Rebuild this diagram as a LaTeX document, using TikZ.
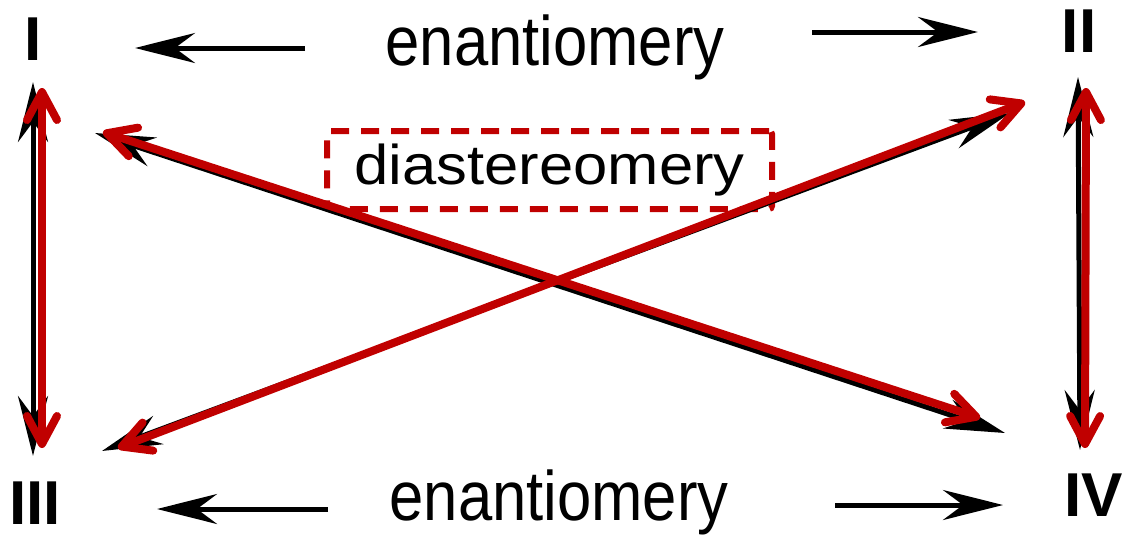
\documentclass[tikz,border=0pt]{standalone}
\usepackage{fontspec}
\setmainfont{Liberation Sans}
\usetikzlibrary{arrows.meta}
\definecolor{dred}{RGB}{192,0,0}
\tikzset{
  blk/.style={draw=black, line width=5pt, -{Stealth[length=60pt,width=30pt,inset=20pt]}},
  blkboth/.style={draw=black, line width=5pt, {Stealth[length=60pt,width=30pt,inset=20pt]}-{Stealth[length=60pt,width=30pt,inset=20pt]}},
  redboth/.style={draw=dred, line width=8pt, line cap=round,
     {Straight Barb[length=28pt,width=30pt,line cap=round,line join=round]}-{Straight Barb[length=28pt,width=30pt,line cap=round,line join=round]}},
  numlab/.style={font=\fontsize{62}{62}\selectfont\bfseries, inner sep=0pt, anchor=base},
  enlab/.style={font=\fontsize{70}{70}\selectfont, inner sep=0pt, anchor=base, xscale=0.88},
  diabox/.style={draw=dred, line width=6pt, dash pattern=on 18pt off 12pt, rounded corners=3pt,
     minimum width=445pt, minimum height=78pt, inner sep=0pt,
     font=\fontsize{56}{56}\selectfont}
}
\begin{document}
\begin{tikzpicture}[x=1pt,y=-1pt]
\useasboundingbox (0,0) rectangle (1123,536);
% labels
\node[numlab] (I) at (33,60) {I};
\node[numlab] (II) at (1079,52) {II};
\node[numlab] (III) at (35,524) {III};
\node[numlab] (IV) at (1094,516) {IV};
\node[enlab] (entop) at (555,65) {enantiomery};
\node[enlab] (enbot) at (559,520) {enantiomery};
\node[diabox] (dia) at (549.5,170) {\scalebox{1.1}[1]{diastereomery}};
% coordinates for arrows
\coordinate (tlA) at (305,48);  \coordinate (tlB) at (135,48);
\coordinate (trA) at (812,32);  \coordinate (trB) at (978,32);
\coordinate (blA) at (328,509); \coordinate (blB) at (157,509);
\coordinate (brA) at (835,505); \coordinate (brB) at (1003,505);
\coordinate (kvl1) at (33,82);   \coordinate (kvl2) at (33,456);
\coordinate (kvr1) at (1078,77); \coordinate (kvr2) at (1080,450);
\coordinate (kd1a) at (95,133);  \coordinate (kd1b) at (1005,433);
\coordinate (kd2a) at (102,451); \coordinate (kd2b) at (1010,113);
\coordinate (rvl1) at (42,88);   \coordinate (rvl2) at (42,448);
\coordinate (rvr1) at (1086,88); \coordinate (rvr2) at (1085,448);
\coordinate (rd1a) at (103,132); \coordinate (rd1b) at (980,418);
\coordinate (rd2a) at (118,448); \coordinate (rd2b) at (1025,102);
% black arrows
\draw[blk] (tlA) -- (tlB);
\draw[blk] (trA) -- (trB);
\draw[blk] (blA) -- (blB);
\draw[blk] (brA) -- (brB);
\draw[blkboth] (kvl1) -- (kvl2);
\draw[blkboth] (kvr1) -- (kvr2);
\draw[blkboth] (kd1a) -- (kd1b);
\draw[blkboth] (kd2a) -- (kd2b);
% red arrows
\draw[redboth] (rvl1) -- (rvl2);
\draw[redboth] (rvr1) -- (rvr2);
\draw[redboth] (rd1a) -- (rd1b);
\draw[redboth] (rd2a) -- (rd2b);
\end{tikzpicture}
\end{document}
